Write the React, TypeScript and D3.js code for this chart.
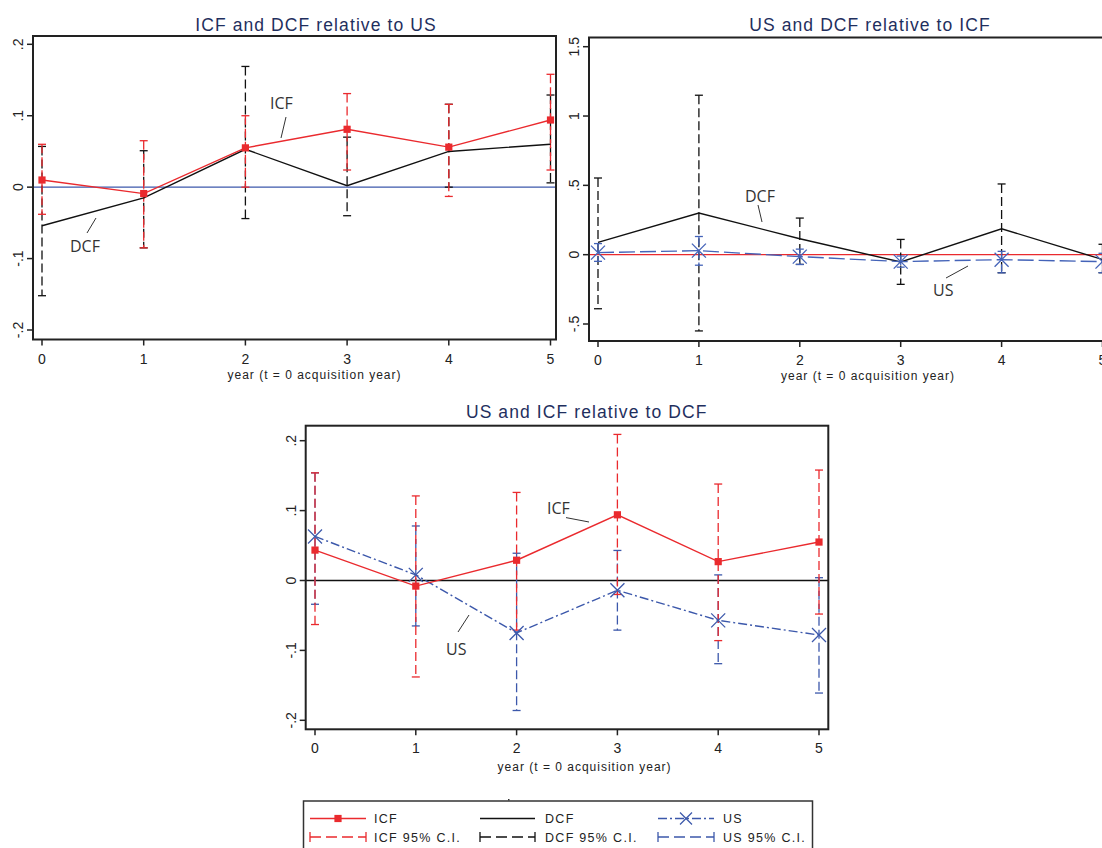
import React from 'react';
import * as d3 from 'd3';

// ---------- data ----------
const years = [0, 1, 2, 3, 4, 5];
const xTickLabels = ['0', '1', '2', '3', '4', '5'];
const yTicksSmall = [-0.2, -0.1, 0, 0.1, 0.2];
const yTickLabelsSmall = ['-.2', '-.1', '0', '.1', '.2'];
const yTicksWide = [-0.5, 0, 0.5, 1, 1.5];
const yTickLabelsWide = ['-.5', '0', '.5', '1', '1.5'];

const panelTitles = ['ICF and DCF relative to US', 'US and DCF relative to ICF', 'US and ICF relative to DCF'];
const xAxisTitle = 'year (t = 0 acquisition year)';

// Panel 1: relative to US
const p1Icf = [0.010, -0.009, 0.055, 0.081, 0.056, 0.094];
const p1IcfLo = [-0.038, -0.085, 0.000, 0.024, -0.013, 0.024];
const p1IcfHi = [0.060, 0.065, 0.100, 0.131, 0.116, 0.158];
const p1Dcf = [-0.054, -0.015, 0.053, 0.002, 0.050, 0.060];
const p1DcfLo = [-0.152, -0.085, -0.044, -0.040, 0.000, 0.006];
const p1DcfHi = [0.057, 0.051, 0.169, 0.070, 0.116, 0.129];

// Panel 2: relative to ICF
const p2Dcf = [0.089, 0.300, 0.115, -0.053, 0.187, -0.035];
const p2DcfLo = [-0.390, -0.550, -0.070, -0.214, -0.130, -0.130];
const p2DcfHi = [0.553, 1.150, 0.264, 0.110, 0.510, 0.075];
const p2Us = [0.015, 0.029, -0.014, -0.050, -0.036, -0.050];
const p2UsLo = [-0.048, -0.076, -0.071, -0.090, -0.131, -0.130];
const p2UsHi = [0.080, 0.131, 0.040, -0.010, 0.024, 0.010];

// Panel 3: relative to DCF
const p3Icf = [0.0435, -0.008, 0.029, 0.094, 0.027, 0.055];
const p3IcfLo = [-0.063, -0.138, -0.071, -0.020, -0.086, -0.048];
const p3IcfHi = [0.154, 0.121, 0.126, 0.209, 0.138, 0.158];
const p3Us = [0.063, 0.008, -0.075, -0.014, -0.057, -0.078];
const p3UsLo = [-0.034, -0.065, -0.186, -0.071, -0.119, -0.161];
const p3UsHi = [0.154, 0.078, 0.039, 0.043, 0.008, 0.004];

const legendLabels = ['ICF', 'DCF', 'US', 'ICF 95% C.I.', 'DCF 95% C.I.', 'US 95% C.I.'];

// ---------- styles ----------
const RED = '#ea2a2e';
const BLACK = '#111111';
const BLUE = '#3c58ab';
const TITLE_COLOR = '#1f2f5e';
const FRAME = '#222222';
const FONT = "'Liberation Sans', Arial, sans-serif";
const FONT_NARROW = "'Liberation Sans Narrow', 'Arial Narrow', 'Liberation Sans', Arial, sans-serif";
const FONT_ANN = "'Open Sans', 'Noto Sans', sans-serif";

type Series = {
  vals: number[];
  lo: number[];
  hi: number[];
  color: string;
  lineDash?: string;
  marker: 'square' | 'x' | 'none';
};

type Ann = { text: string; tx: number; ty: number; x1: number; y1: number; x2: number; y2: number };

type PanelProps = {
  box: { l: number; r: number; t: number; b: number };
  xr: [number, number];
  yr: [number, number];
  ticks: number[];
  tickLabels: string[];
  baseColor: string;
  series: Series[];
  title: string;
  titleX: number;
  titleY: number;
  axX: number;
  axY: number;
  anns: Ann[];
};

function SquareMarker({ x, y, color }: { x: number; y: number; color: string }) {
  return <rect x={x - 3.6} y={y - 3.6} width={7.2} height={7.2} fill={color} />;
}
function XMarker({ x, y, color }: { x: number; y: number; color: string }) {
  const w = 7, h = 7;
  return (
    <g stroke={color} strokeWidth={1.3}>
      <line x1={x - w} y1={y - h} x2={x + w} y2={y + h} />
      <line x1={x - w} y1={y + h} x2={x + w} y2={y - h} />
    </g>
  );
}

function Panel(p: PanelProps) {
  const x = d3.scaleLinear().domain([0, 5]).range(p.xr);
  const y = d3.scaleLinear().domain([p.ticks[0], p.ticks[p.ticks.length - 1]]).range(p.yr);
  const line = d3.line<number>().x((_, i) => x(years[i])).y((d) => y(d));
  const capW = 4;
  return (
    <g>
      <text x={p.titleX} y={p.titleY} textAnchor="middle" fontFamily={FONT} fontSize={17.5} letterSpacing={1.1} fill={TITLE_COLOR}>
        {p.title}
      </text>
      <line x1={p.box.l} x2={p.box.r} y1={y(0)} y2={y(0)} stroke={p.baseColor} strokeWidth={1.3} />
      {p.series.map((s, si) => (
        <g key={'ci' + si} stroke={s.color} strokeWidth={1.3}>
          {years.map((yr, i) => (
            <g key={i}>
              <line x1={x(yr)} x2={x(yr)} y1={y(s.hi[i])} y2={y(s.lo[i])} strokeDasharray="9,4" />
              <line x1={x(yr) - capW} x2={x(yr) + capW} y1={y(s.hi[i])} y2={y(s.hi[i])} />
              <line x1={x(yr) - capW} x2={x(yr) + capW} y1={y(s.lo[i])} y2={y(s.lo[i])} />
            </g>
          ))}
        </g>
      ))}
      {p.series.map((s, si) => (
        <path key={'l' + si} d={line(s.vals) || ''} fill="none" stroke={s.color} strokeWidth={1.4} strokeDasharray={s.lineDash} />
      ))}
      {p.series.map((s, si) => (
        <g key={'m' + si}>
          {years.map((yr, i) =>
            s.marker === 'square' ? (
              <SquareMarker key={i} x={x(yr)} y={y(s.vals[i])} color={s.color} />
            ) : s.marker === 'x' ? (
              <XMarker key={i} x={x(yr)} y={y(s.vals[i])} color={s.color} />
            ) : null
          )}
        </g>
      ))}
      <rect x={p.box.l} y={p.box.t} width={p.box.r - p.box.l} height={p.box.b - p.box.t} fill="none" stroke={FRAME} strokeWidth={2} />
      {p.ticks.map((t, i) => (
        <g key={'yt' + i}>
          <line x1={p.box.l - 6} x2={p.box.l} y1={y(t)} y2={y(t)} stroke={FRAME} strokeWidth={1.5} />
          <text
            transform={`translate(${p.box.l - 10},${y(t)}) rotate(-90)`}
            textAnchor="middle"
            fontFamily={FONT_NARROW}
            fontSize={14}
            fill="#222"
          >
            {p.tickLabels[i]}
          </text>
        </g>
      ))}
      {years.map((yr, i) => (
        <g key={'xt' + i}>
          <line x1={x(yr)} x2={x(yr)} y1={p.box.b} y2={p.box.b + 6} stroke={FRAME} strokeWidth={1.5} />
          <text x={x(yr)} y={p.box.b + 24} textAnchor="middle" fontFamily={FONT_NARROW} fontSize={14} fill="#222">
            {xTickLabels[i]}
          </text>
        </g>
      ))}
      <text x={p.axX} y={p.axY} textAnchor="middle" fontFamily={FONT} fontSize={12} letterSpacing={1} fill="#222">
        {xAxisTitle}
      </text>
      {p.anns.map((a, i) => (
        <g key={'a' + i}>
          <text x={a.tx} y={a.ty} fontFamily={FONT_ANN} fontSize={16} fill="#333">
            {a.text}
          </text>
          <line x1={a.x1} y1={a.y1} x2={a.x2} y2={a.y2} stroke="#333" strokeWidth={1} />
        </g>
      ))}
    </g>
  );
}

function Legend() {
  const r1 = 818.5;
  const r2 = 837;
  const cols = [
    { x1: 310, x2: 366, lx: 374, color: RED },
    { x1: 480, x2: 535, lx: 545, color: BLACK },
    { x1: 658, x2: 714, lx: 723, color: BLUE },
  ];
  const lineDashes = [undefined, undefined, '9,3,2,3'];
  return (
    <g>
      <rect x={303.5} y={801} width={509} height={70} fill="#fff" stroke="#333" strokeWidth={1.5} />
      <rect x={508} y={799} width={1.5} height={1.5} fill="#333" />
      {cols.map((c, i) => (
        <g key={i}>
          <line x1={c.x1} x2={c.x2} y1={r1} y2={r1} stroke={c.color} strokeWidth={1.4} strokeDasharray={lineDashes[i]} />
          {i === 0 && <SquareMarker x={(c.x1 + c.x2) / 2} y={r1} color={c.color} />}
          {i === 2 && (
            <g stroke={c.color} strokeWidth={1.3}>
              <line x1={(c.x1 + c.x2) / 2 - 6} y1={r1 - 6} x2={(c.x1 + c.x2) / 2 + 6} y2={r1 + 6} />
              <line x1={(c.x1 + c.x2) / 2 - 6} y1={r1 + 6} x2={(c.x1 + c.x2) / 2 + 6} y2={r1 - 6} />
            </g>
          )}
          <text x={c.lx} y={r1 + 4.5} fontFamily={FONT} fontSize={12.5} letterSpacing={1.3} fill="#222">
            {legendLabels[i]}
          </text>
          <g stroke={c.color} strokeWidth={1.3}>
            <line x1={c.x1} x2={c.x2} y1={r2} y2={r2} strokeDasharray="11,5" />
            <line x1={c.x1} x2={c.x1} y1={r2 - 5} y2={r2 + 5} />
            <line x1={c.x2} x2={c.x2} y1={r2 - 5} y2={r2 + 5} />
          </g>
          <text x={c.lx} y={r2 + 4.5} fontFamily={FONT} fontSize={12.5} letterSpacing={1.3} fill="#222">
            {legendLabels[i + 3]}
          </text>
        </g>
      ))}
    </g>
  );
}

export default function App() {
  return (
    <svg width={1102} height={848} style={{ position: 'absolute', left: 0, top: 0, background: '#fff' }}>
      <rect x={0} y={0} width={1102} height={848} fill="#fff" />
      <Panel
        box={{ l: 33, r: 556, t: 36, b: 339.5 }}
        xr={[42, 550.5]}
        yr={[330, 44.3]}
        ticks={yTicksSmall}
        tickLabels={yTickLabelsSmall}
        baseColor={BLUE}
        series={[
          { vals: p1Dcf, lo: p1DcfLo, hi: p1DcfHi, color: BLACK, marker: 'none' },
          { vals: p1Icf, lo: p1IcfLo, hi: p1IcfHi, color: RED, marker: 'square' },
        ]}
        title={panelTitles[0]}
        titleX={316}
        titleY={31}
        axX={314.5}
        axY={379}
        anns={[
          { text: 'ICF', tx: 270, ty: 109, x1: 286, y1: 117, x2: 281, y2: 138 },
          { text: 'DCF', tx: 70, ty: 251.5, x1: 96, y1: 218, x2: 87, y2: 233 },
        ]}
      />
      <Panel
        box={{ l: 589, r: 1112, t: 37.5, b: 341 }}
        xr={[598, 1102.5]}
        yr={[324, 46.7]}
        ticks={yTicksWide}
        tickLabels={yTickLabelsWide}
        baseColor={RED}
        series={[
          { vals: p2Dcf, lo: p2DcfLo, hi: p2DcfHi, color: BLACK, marker: 'none' },
          { vals: p2Us, lo: p2UsLo, hi: p2UsHi, color: '#4463b8', marker: 'x', lineDash: '16,5' },
        ]}
        title={panelTitles[1]}
        titleX={870}
        titleY={31}
        axX={868}
        axY={380}
        anns={[
          { text: 'DCF', tx: 745, ty: 202, x1: 758, y1: 205, x2: 762, y2: 222 },
          { text: 'US', tx: 933, ty: 296, x1: 946, y1: 278, x2: 968, y2: 266 },
        ]}
      />
      <Panel
        box={{ l: 305.7, r: 828.3, t: 425.7, b: 729.3 }}
        xr={[315, 819]}
        yr={[720.3, 440.7]}
        ticks={yTicksSmall}
        tickLabels={yTickLabelsSmall}
        baseColor={BLACK}
        series={[
          { vals: p3Us, lo: p3UsLo, hi: p3UsHi, color: BLUE, marker: 'x', lineDash: '9,3,2,3' },
          { vals: p3Icf, lo: p3IcfLo, hi: p3IcfHi, color: RED, marker: 'square' },
        ]}
        title={panelTitles[2]}
        titleX={586.7}
        titleY={418}
        axX={584.6}
        axY={771}
        anns={[
          { text: 'ICF', tx: 547, ty: 513.5, x1: 566, y1: 517.6, x2: 589, y2: 522 },
          { text: 'US', tx: 446, ty: 654.5, x1: 469, y1: 615, x2: 458, y2: 632 },
        ]}
      />
      <Legend />
    </svg>
  );
}
